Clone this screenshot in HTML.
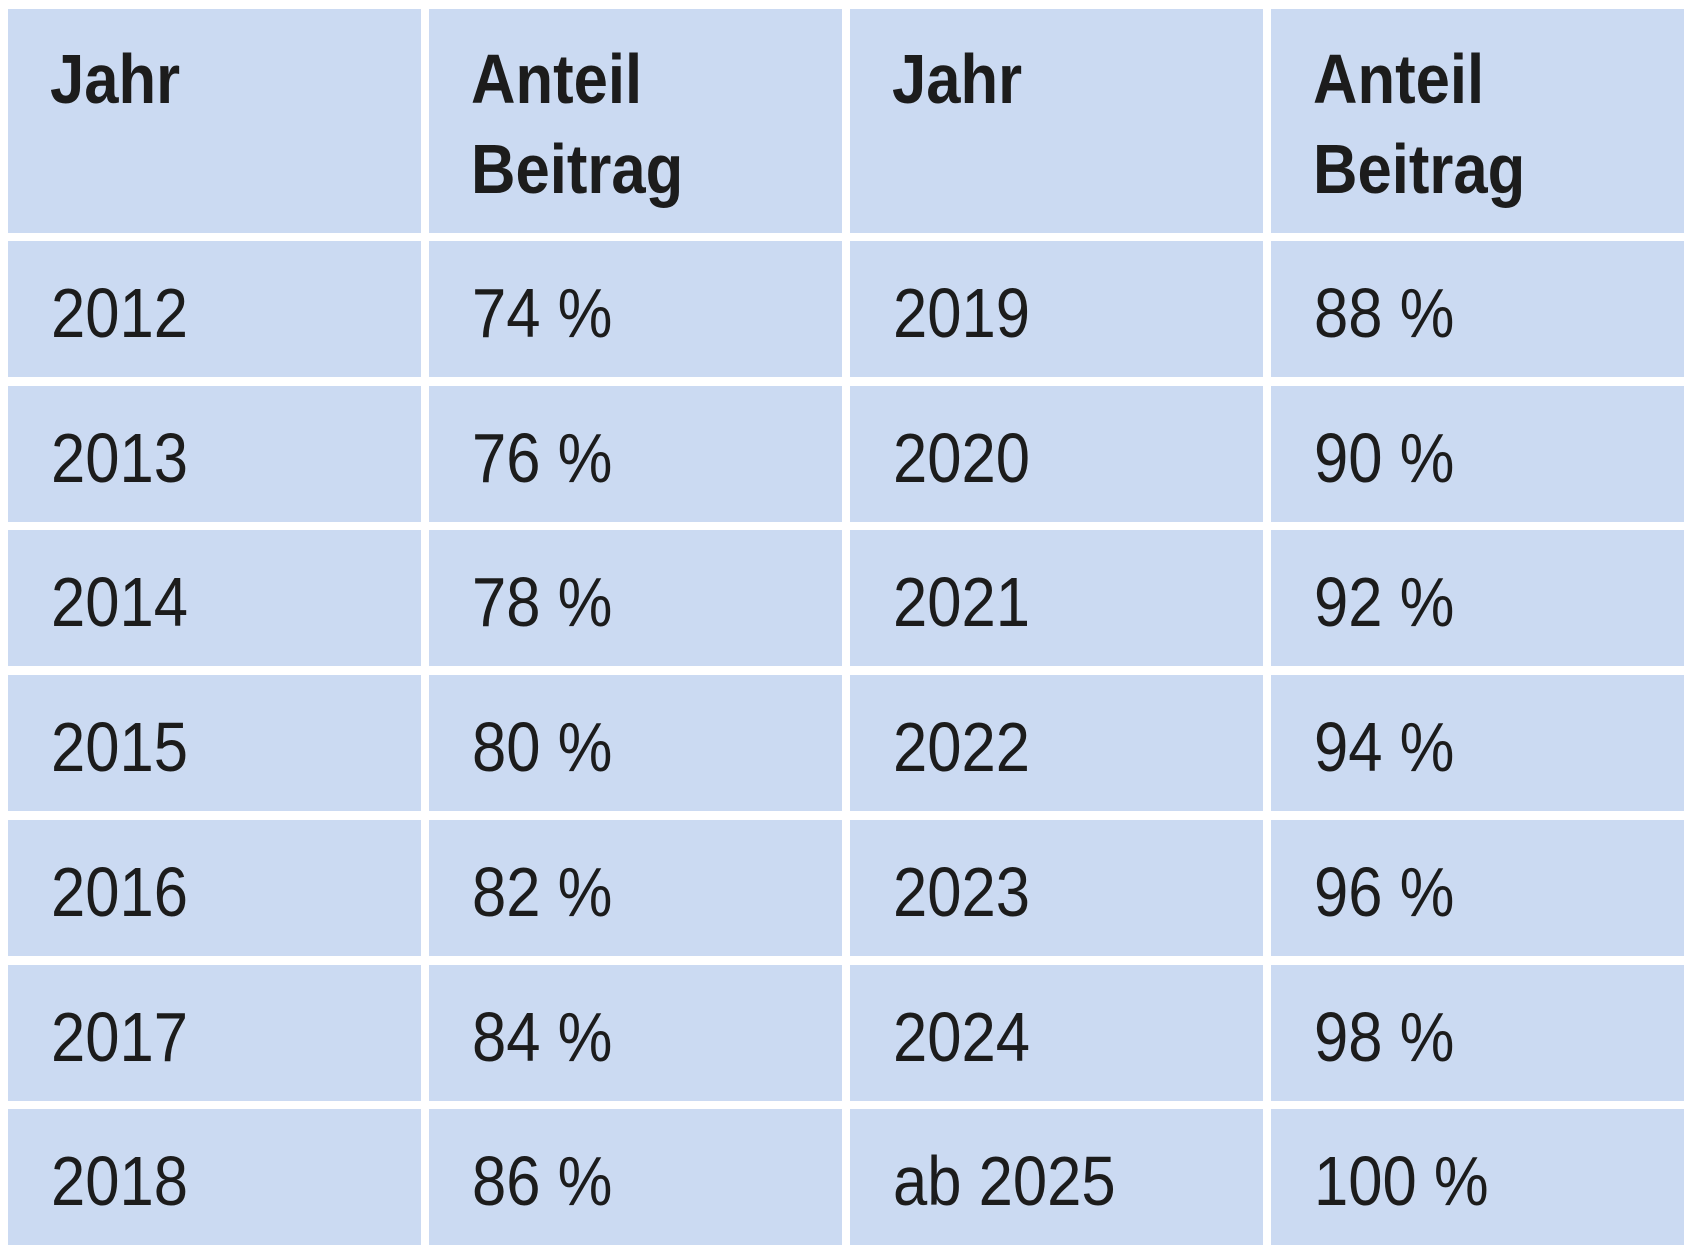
<!DOCTYPE html>
<html><head><meta charset="utf-8"><style>
html,body{margin:0;padding:0;background:#fff;}
svg{display:block;}
text{font-family:"Liberation Sans",sans-serif;fill:#1c1c1c;}
</style></head><body>
<svg id="tbl" width="1693" height="1251" viewBox="0 0 1693 1251" xmlns="http://www.w3.org/2000/svg"></svg>
<script>
const yearsLeft = ["2012","2013","2014","2015","2016","2017","2018"];
const shareLeft = ["74 %","76 %","78 %","80 %","82 %","84 %","86 %"];
const yearsRight = ["2019","2020","2021","2022","2023","2024","ab 2025"];
const shareRight = ["88 %","90 %","92 %","94 %","96 %","98 %","100 %"];
const headers = [["Jahr"],["Anteil","Beitrag"],["Jahr"],["Anteil","Beitrag"]];

const NS = "http://www.w3.org/2000/svg";
const svg = document.getElementById("tbl");
const colX = [8, 429, 850, 1271];
const colW = 413;
const headTop = 9, headH = 224;
const rowTop0 = 241, rowPitch = 144.7, rowH = 136;
const bg = "#cbdaf2";

function addText(x, y, str, bold, name) {
  const t = document.createElementNS(NS, "text");
  t.setAttribute("transform", "translate(" + x + "," + y + ") scale(0.88,1)");
  t.setAttribute("font-size", "70");
  if (bold) t.setAttribute("font-weight", "bold");
  t.textContent = str;
  
  
  svg.appendChild(t);
}
function addCell(x, y, w, h, name) {
  const r = document.createElementNS(NS, "rect");
  r.setAttribute("x", x); r.setAttribute("y", y);
  r.setAttribute("width", w); r.setAttribute("height", h);
  r.setAttribute("fill", bg);
  
  
  svg.appendChild(r);
}

headers.forEach((lines, c) => {
  addCell(colX[c], headTop, colW, headH, "header-cell");
  lines.forEach((ln, i) => {
    addText(colX[c] + 42, 103 + i * 90, ln, true, "column-header");
  });
});

const cols = [yearsLeft, shareLeft, yearsRight, shareRight];
const colNames = ["year-cell", "share-cell", "year-cell", "share-cell"];
for (let r = 0; r < yearsLeft.length; r++) {
  const top = Math.round(rowTop0 + r * rowPitch);
  cols.forEach((arr, c) => {
    addCell(colX[c], top, colW, rowH, "table-cell");
    addText(colX[c] + 43, top + 96, arr[r], false, colNames[c]);
  });
}
</script>
</body></html>
